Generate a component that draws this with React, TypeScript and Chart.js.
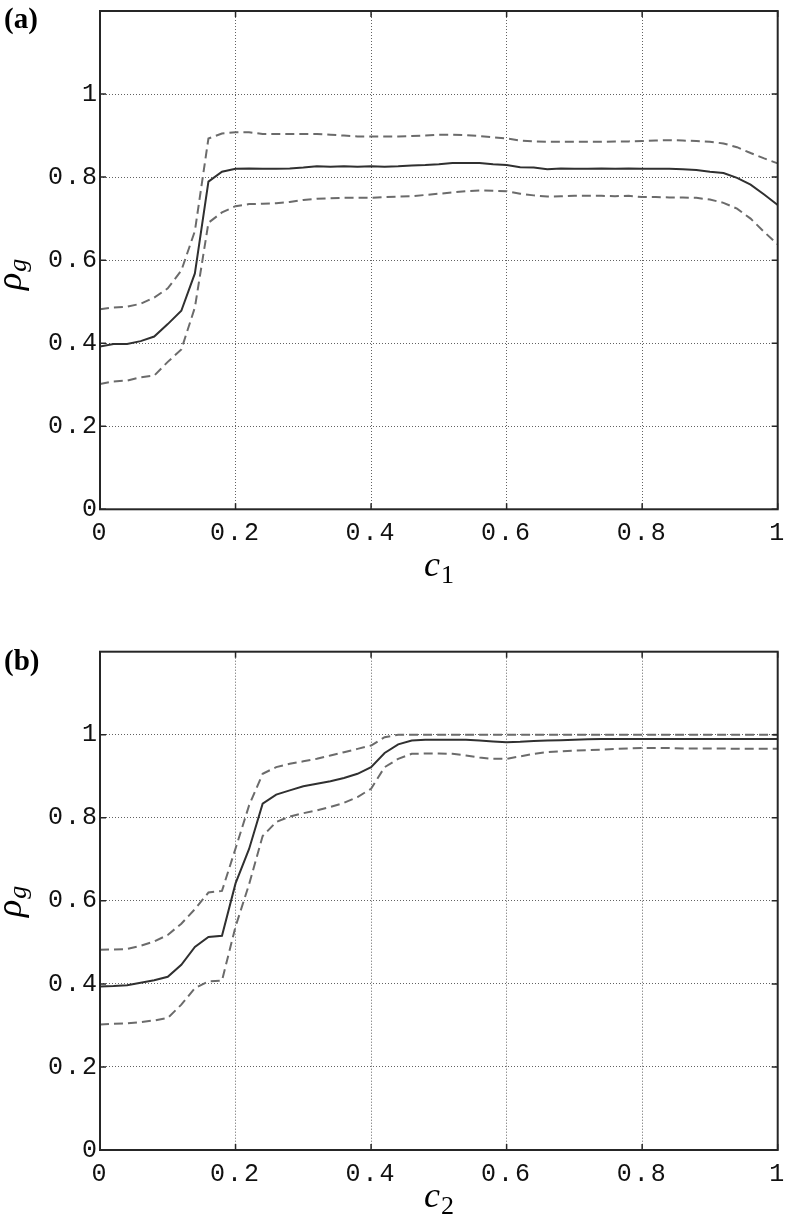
import React, { useEffect, useRef } from 'react';
import { Chart, registerables } from 'chart.js';

Chart.register(...registerables);

// ---------- data ----------
const C_VALUES = [
  0, 0.02, 0.04, 0.06, 0.08, 0.1, 0.12, 0.14, 0.16, 0.18,
  0.2, 0.22, 0.24, 0.26, 0.28, 0.3, 0.32, 0.34, 0.36, 0.38,
  0.4, 0.42, 0.44, 0.46, 0.48, 0.5, 0.52, 0.54, 0.56, 0.58,
  0.6, 0.62, 0.64, 0.66, 0.68, 0.7, 0.72, 0.74, 0.76, 0.78,
  0.8, 0.82, 0.84, 0.86, 0.88, 0.9, 0.92, 0.94, 0.96, 0.98, 1,
];

// panel (a): rho_g vs c1
const A_MEAN = [
  0.392, 0.398, 0.398, 0.405, 0.416, 0.446, 0.478, 0.568, 0.789, 0.813,
  0.82, 0.821, 0.82, 0.82, 0.821, 0.823, 0.826, 0.825, 0.826, 0.825,
  0.826, 0.825, 0.826, 0.828, 0.829, 0.831, 0.834, 0.834, 0.834, 0.831,
  0.829, 0.824, 0.823, 0.819, 0.821, 0.82, 0.82, 0.821, 0.82, 0.821,
  0.82, 0.82, 0.82, 0.819, 0.817, 0.813, 0.81, 0.798, 0.782, 0.758, 0.733,
];
const A_UPPER = [
  0.482, 0.486, 0.488, 0.495, 0.51, 0.532, 0.575, 0.67, 0.893, 0.905,
  0.908, 0.908, 0.904, 0.904, 0.904, 0.904, 0.904, 0.902, 0.9, 0.898,
  0.898, 0.898, 0.898, 0.899, 0.9, 0.902, 0.902, 0.901, 0.899, 0.896,
  0.893, 0.888, 0.886, 0.885, 0.885, 0.885, 0.885, 0.885, 0.886, 0.886,
  0.887, 0.888, 0.889, 0.888, 0.887, 0.885, 0.881, 0.872, 0.858, 0.845, 0.833,
];
const A_LOWER = [
  0.302, 0.308, 0.31, 0.318, 0.322, 0.355, 0.385, 0.486, 0.69, 0.715,
  0.73, 0.735, 0.736, 0.737, 0.74, 0.745, 0.748, 0.749, 0.75, 0.75,
  0.75, 0.752, 0.753, 0.754, 0.757, 0.76, 0.763, 0.766, 0.768, 0.767,
  0.766, 0.76, 0.756, 0.753, 0.754, 0.755, 0.755, 0.755, 0.754, 0.755,
  0.752, 0.752, 0.751, 0.751, 0.75, 0.746, 0.738, 0.724, 0.7, 0.668, 0.638,
];

// panel (b): rho_g vs c2
const B_MEAN = [
  0.394, 0.395, 0.397, 0.403, 0.409, 0.417, 0.446, 0.489, 0.513, 0.516,
  0.642, 0.725, 0.834, 0.856, 0.866, 0.876, 0.882, 0.888, 0.896, 0.906,
  0.922, 0.956, 0.977, 0.986, 0.988, 0.988, 0.988, 0.988, 0.986, 0.984,
  0.982, 0.983, 0.985, 0.986, 0.987, 0.988, 0.989, 0.99, 0.99, 0.99,
  0.99, 0.99, 0.99, 0.99, 0.99, 0.99, 0.99, 0.99, 0.99, 0.99, 0.99,
];
const B_UPPER = [
  0.482, 0.483, 0.484, 0.492, 0.502, 0.518, 0.545, 0.58, 0.62, 0.624,
  0.726, 0.83, 0.906, 0.922, 0.93, 0.936, 0.942, 0.95, 0.958, 0.966,
  0.974, 0.994, 1, 1, 1, 1, 1, 1, 1, 1,
  1, 1, 1, 1, 1, 1, 1, 1, 1, 1,
  1, 1, 1, 1, 1, 1, 1, 1, 1, 1, 1,
];
const B_LOWER = [
  0.302, 0.304, 0.305, 0.308, 0.312, 0.318, 0.35, 0.39, 0.406, 0.408,
  0.538, 0.64, 0.756, 0.79, 0.803, 0.811, 0.818, 0.826, 0.836, 0.85,
  0.87, 0.922, 0.942, 0.954, 0.955, 0.955, 0.954, 0.95, 0.945, 0.942,
  0.942, 0.948, 0.954, 0.958, 0.96, 0.962, 0.963, 0.964, 0.966, 0.967,
  0.968, 0.968, 0.968, 0.967, 0.967, 0.967, 0.967, 0.966, 0.966, 0.966, 0.966,
];

const X_TICKS = [0, 0.2, 0.4, 0.6, 0.8, 1];
const Y_TICKS = [0, 0.2, 0.4, 0.6, 0.8, 1];

const PAGE_W = 786;
const PLOT_LEFT = 100;
const PLOT_RIGHT = 777.7;

// ---------- plugin: frame, inward ticks, titles ----------
const framePlugin = {
  id: 'frame',
  beforeDraw(chart: any) {
    (chart.ctx as any).letterSpacing = '2px';
  },
  afterDraw(chart: any, _args: any, opts: any) {
    const { ctx, chartArea: a } = chart;
    const xs = chart.scales.x;
    const ys = chart.scales.y;
    ctx.save();
    (ctx as any).letterSpacing = '0px';
    ctx.setLineDash([]);
    ctx.strokeStyle = '#262626';
    ctx.lineWidth = 2;
    ctx.strokeRect(a.left, a.top, a.right - a.left, a.bottom - a.top);
    ctx.lineWidth = 1.5;
    const L = 6;
    ctx.beginPath();
    for (const t of xs.ticks) {
      const px = xs.getPixelForValue(t.value);
      ctx.moveTo(px, a.bottom);
      ctx.lineTo(px, a.bottom - L);
      ctx.moveTo(px, a.top);
      ctx.lineTo(px, a.top + L);
    }
    for (const t of ys.ticks) {
      const py = ys.getPixelForValue(t.value);
      ctx.moveTo(a.left, py);
      ctx.lineTo(a.left + L, py);
      ctx.moveTo(a.right, py);
      ctx.lineTo(a.right - L, py);
    }
    ctx.stroke();

    ctx.fillStyle = '#000';
    ctx.textAlign = 'left';
    ctx.textBaseline = 'alphabetic';
    // panel label
    ctx.font = 'bold 29px "Liberation Serif"';
    ctx.fillText(opts.label, 4, opts.labelY);

    // x title: c with subscript
    ctx.font = 'italic 36px "Liberation Serif"';
    ctx.fillText('c', opts.xTitleX, opts.xTitleY);
    const cw = ctx.measureText('c').width;
    ctx.font = '26px "Liberation Serif"';
    ctx.fillText(opts.xSub, opts.xTitleX + cw + 1, opts.xTitleY + 7);

    // y title: rho with subscript g, rotated
    ctx.save();
    ctx.translate(opts.yTitleX, opts.yTitleStart);
    ctx.rotate(-Math.PI / 2);
    ctx.font = 'italic 36px "Liberation Serif"';
    ctx.fillText('ρ', 0, 0);
    const rw = ctx.measureText('ρ').width;
    ctx.font = 'italic 26px "Liberation Serif"';
    ctx.fillText('g', rw + 1, 5);
    ctx.restore();

    ctx.restore();
  },
};

function fmt(v: number) {
  return String(Number(Number(v).toFixed(2)));
}

type PanelProps = {
  top: number;
  height: number;
  plotTop: number;
  plotBottom: number;
  mean: number[];
  upper: number[];
  lower: number[];
  label: string;
  labelY: number;
  xSub: string;
  xTitleY: number;
  yTitleStart: number;
};

function Panel(p: PanelProps) {
  const ref = useRef<HTMLCanvasElement>(null);
  useEffect(() => {
    if (!ref.current) return;
    const pts = (arr: number[]) => C_VALUES.map((x, i) => ({ x, y: arr[i] }));
    const dashed = { borderColor: '#6b6b6b', borderWidth: 2, borderDash: [9, 5], pointRadius: 0, tension: 0, fill: false };
    const tickFont = { family: '"Liberation Mono", monospace', size: 25 };
    const chart = new Chart(ref.current, {
      type: 'line',
      data: {
        datasets: [
          { data: pts(p.upper), ...dashed },
          { data: pts(p.lower), ...dashed },
          { data: pts(p.mean), borderColor: '#303030', borderWidth: 2, pointRadius: 0, tension: 0, fill: false },
        ],
      } as any,
      options: {
        animation: false,
        responsive: false,
        events: [],
        layout: { padding: { left: 0, right: PAGE_W - PLOT_RIGHT, top: p.plotTop, bottom: 0 } },
        plugins: {
          legend: { display: false },
          tooltip: { enabled: false },
          frame: {
            label: p.label,
            labelY: p.labelY,
            xSub: p.xSub,
            xTitleX: 424,
            xTitleY: p.xTitleY,
            yTitleX: 21,
            yTitleStart: p.yTitleStart,
          },
        } as any,
        scales: {
          x: {
            type: 'linear',
            min: 0,
            max: 1,
            afterBuildTicks: (s: any) => {
              s.ticks = X_TICKS.map((v) => ({ value: v }));
            },
            afterFit: (s: any) => {
              s.height = p.height - p.plotBottom;
              s.paddingLeft = 0;
              s.paddingRight = 0;
            },
            grid: { color: 'rgba(70,70,70,0.85)', lineWidth: 1, drawTicks: false, borderDash: [1, 2] } as any,
            border: { display: false, dash: [1, 2] },
            ticks: {
              padding: 9,
              maxRotation: 0,
              autoSkip: false,
              color: '#111',
              font: tickFont,
              callback: (v: any) => fmt(v),
            },
          },
          y: {
            type: 'linear',
            min: 0,
            max: 1.2,
            afterBuildTicks: (s: any) => {
              s.ticks = Y_TICKS.map((v) => ({ value: v }));
            },
            afterFit: (s: any) => {
              s.width = PLOT_LEFT;
              s.paddingTop = 0;
              s.paddingBottom = 0;
            },
            grid: { color: 'rgba(70,70,70,0.85)', lineWidth: 1, drawTicks: false, borderDash: [1, 2] } as any,
            border: { display: false, dash: [1, 2] },
            ticks: {
              padding: 1,
              color: '#111',
              font: tickFont,
              callback: (v: any) => fmt(v),
            },
          },
        },
      } as any,
      plugins: [framePlugin as any],
    });
    return () => chart.destroy();
  }, []);
  return (
    <canvas
      ref={ref}
      width={PAGE_W}
      height={p.height}
      style={{ position: 'absolute', left: 0, top: p.top, width: PAGE_W, height: p.height, display: 'block' }}
    />
  );
}

export default function App() {
  return (
    <div style={{ position: 'absolute', left: 0, top: 0, width: PAGE_W, height: 1217, background: '#fff', overflow: 'hidden' }}>
      <Panel
        top={0}
        height={600}
        plotTop={11}
        plotBottom={509.3}
        mean={A_MEAN}
        upper={A_UPPER}
        lower={A_LOWER}
        label="(a)"
        labelY={28}
        xSub="1"
        xTitleY={576}
        yTitleStart={290}
      />
      <Panel
        top={600}
        height={617}
        plotTop={51.7}
        plotBottom={550}
        mean={B_MEAN}
        upper={B_UPPER}
        lower={B_LOWER}
        label="(b)"
        labelY={70}
        xSub="2"
        xTitleY={607}
        yTitleStart={317}
      />
    </div>
  );
}
